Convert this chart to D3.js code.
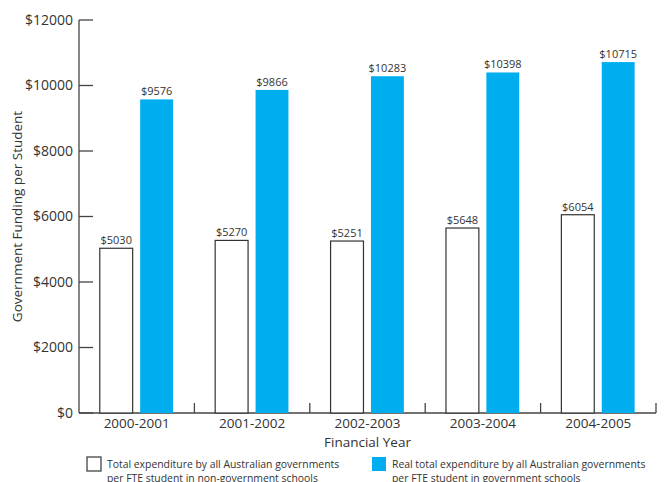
<!DOCTYPE html>
<html>
<head>
<meta charset="utf-8">
<script src="https://cdn.jsdelivr.net/npm/d3@7"></script>
<style>
body{margin:0;background:#fff;}
text{font-family:"Open Sans","Noto Sans",sans-serif;fill:#333;}
</style>
</head>
<body>
<svg id="chart" width="665" height="482"></svg>
<script>
var years=["2000-2001","2001-2002","2002-2003","2003-2004","2004-2005"];
var nonGov=[5030,5270,5251,5648,6054];
var gov=[9576,9866,10283,10398,10715];
var yTicks=[0,2000,4000,6000,8000,10000,12000];
var legendLabels=[
  ["Total expenditure by all Australian governments","per FTE student in non-government schools"],
  ["Real total expenditure by all Australian governments","per FTE student in government schools"]
];

var margin={top:20,right:9,bottom:69,left:79},
width=665-margin.left-margin.right,
height=482-margin.top-margin.bottom;

var svg=d3.select("#chart");
var g=svg.append("g").attr("transform","translate("+margin.left+","+margin.top+")");

var x=d3.scaleBand().domain(years).range([0,width]);
var y=d3.scaleLinear().domain([0,12000]).range([height,0]);

// y axis
g.append("line").attr("x1",0).attr("x2",0).attr("y1",0).attr("y2",height).attr("stroke","#444").attr("stroke-width",1.3);
g.selectAll(".ytick").data(yTicks).enter().append("line")
 .attr("x1",0).attr("x2",14).attr("y1",function(d){return y(d);}).attr("y2",function(d){return y(d);})
 .attr("stroke","#444").attr("stroke-width",1.3);
g.selectAll(".ylab").data(yTicks).enter().append("text")
 .attr("x",-6).attr("y",function(d){return y(d);}).attr("dy","0.35em")
 .attr("text-anchor","end").style("font-size","14px")
 .text(function(d){return "$"+d;});

// x axis
g.append("line").attr("x1",0).attr("x2",width).attr("y1",height).attr("y2",height).attr("stroke","#444").attr("stroke-width",1.3);
g.selectAll(".xtick").data(years).enter().append("line")
 .attr("x1",function(d){return x(d)+x.bandwidth();}).attr("x2",function(d){return x(d)+x.bandwidth();})
 .attr("y1",height).attr("y2",height-10).attr("stroke","#444").attr("stroke-width",1.3);
g.selectAll(".xlab").data(years).enter().append("text")
 .attr("x",function(d){return x(d)+x.bandwidth()/2;}).attr("y",height+15)
 .attr("text-anchor","middle").style("font-size","13.5px")
 .text(function(d){return d;});

var bw=x.bandwidth();
var bar1=bw*0.18, bar2=bw*0.53, bwidth=bw*0.285;

// white bars
g.selectAll(".b1").data(nonGov).enter().append("rect")
 .attr("x",function(d,i){return x(years[i])+bar1;}).attr("y",function(d){return y(d);})
 .attr("width",bwidth).attr("height",function(d){return height-y(d);})
 .attr("fill","#fff").attr("stroke","#333").attr("stroke-width",1.2);
// blue bars
g.selectAll(".b2").data(gov).enter().append("rect")
 .attr("x",function(d,i){return x(years[i])+bar2;}).attr("y",function(d){return y(d);})
 .attr("width",bwidth).attr("height",function(d){return height-y(d);})
 .attr("fill","#00aeef");

g.selectAll(".l1").data(nonGov).enter().append("text")
 .attr("x",function(d,i){return x(years[i])+bar1+bwidth/2;}).attr("y",function(d){return y(d)-4;})
 .attr("text-anchor","middle").style("font-size","11px").text(function(d){return "$"+d;});
g.selectAll(".l2").data(gov).enter().append("text")
 .attr("x",function(d,i){return x(years[i])+bar2+bwidth/2;}).attr("y",function(d){return y(d)-4;})
 .attr("text-anchor","middle").style("font-size","11px").text(function(d){return "$"+d;});

// axis titles
g.append("text").attr("x",width/2).attr("y",height+34).attr("text-anchor","middle")
 .style("font-size","13.5px").text("Financial Year");
g.append("text").attr("transform","translate(-57,"+(height/2)+") rotate(-90)")
 .attr("text-anchor","middle").style("font-size","13.5px").text("Government Funding per Student");

// legend
var leg=svg.selectAll(".leg").data(legendLabels).enter().append("g")
 .attr("transform",function(d,i){return "translate("+(i==0?87:372)+",457)";});
leg.append("rect").attr("width",14).attr("height",14)
 .attr("fill",function(d,i){return i==0?"#fff":"#00aeef";})
 .attr("stroke",function(d,i){return i==0?"#333":"none";}).attr("stroke-width",1.2);
leg.each(function(d){
  var t=d3.select(this).append("text").attr("x",20).attr("y",11).style("font-size","10.4px");
  t.append("tspan").attr("x",20).text(d[0]);
  t.append("tspan").attr("x",20).attr("dy",14).text(d[1]);
});
</script>
</body>
</html>
